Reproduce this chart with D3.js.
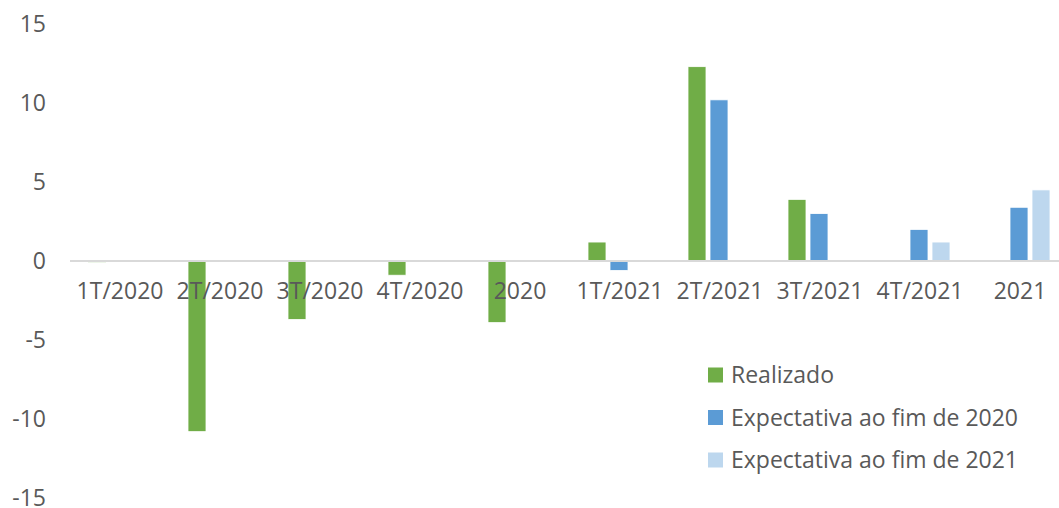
<!DOCTYPE html>
<html>
<head>
<meta charset="utf-8">
<script src="https://cdn.jsdelivr.net/npm/d3@7"></script>
<style>
    body { margin: 0; background: #fff; }
    text { font-family: "Open Sans", sans-serif; fill: #595959; }
</style>
</head>
<body>
<script>
// Chart data
var categories = ["1T/2020", "2T/2020", "3T/2020", "4T/2020", "2020",
                  "1T/2021", "2T/2021", "3T/2021", "4T/2021", "2021"];
var seriesNames = ["Realizado", "Expectativa ao fim de 2020", "Expectativa ao fim de 2021"];
var realizado = [-0.1, -10.8, -3.7, -0.9, -3.9, 1.2, 12.3, 3.9, null, null];
var expectativa2020 = [null, null, null, null, null, -0.6, 10.2, 3.0, 2.0, 3.4];
var expectativa2021 = [null, null, null, null, null, null, null, null, 1.2, 4.5];
var yTicks = [-15, -10, -5, 0, 5, 10, 15];
var colors = ["#70AD47", "#5B9BD5", "#BDD7EE"];

var width = 1059,
    height = 508;

var svg = d3.select("body")
    .append("svg")
    .attr("width", width)
    .attr("height", height);

// Scales
var x0 = d3.scaleBand()
    .domain(categories)
    .range([70, 1070]);

var x1 = d3.scaleBand()
    .domain(d3.range(3))
    .range([18, 80])
    .paddingInner(4 / 22);

var y = d3.scaleLinear()
    .domain([-15, 15])
    .range([498, 24]);

// Y axis labels (no line), plain hyphen for negatives
var yAxis = svg.append("g")
    .attr("transform", "translate(46,0)")
    .call(d3.axisLeft(y)
        .tickValues(yTicks)
        .tickFormat(function(d){ return String(d); })
        .tickSize(0)
        .tickPadding(0));
yAxis.select(".domain").remove();
yAxis.selectAll("text")
    .attr("font-size", 23)
    .attr("font-family", null);

// Bars
var series = [realizado, expectativa2020, expectativa2021];
var bars = [];
series.forEach(function(vals, s){
    vals.forEach(function(v, i){
        if (v !== null) bars.push({cat: categories[i], s: s, v: v});
    });
});

svg.selectAll(".bar")
    .data(bars)
    .enter()
    .append("rect")
    .attr("class", "bar")
    .attr("x", function(d){ return x0(d.cat) + x1(d.s); })
    .attr("width", x1.bandwidth())
    .attr("y", function(d){ return y(Math.max(0, d.v)); })
    .attr("height", function(d){ return Math.max(1, Math.abs(y(d.v) - y(0))); })
    .attr("fill", function(d){ return colors[d.s]; })
    .attr("stroke", "#fff")
    .attr("stroke-width", 0.8);

// Zero line
svg.append("line")
    .attr("x1", 70)
    .attr("x2", width)
    .attr("y1", y(0))
    .attr("y2", y(0))
    .attr("stroke", "#D9D9D9")
    .attr("stroke-width", 2);

// Category labels, just below the zero line
var xAxis = svg.append("g")
    .attr("transform", "translate(0," + y(0) + ")")
    .call(d3.axisBottom(x0).tickSize(0).tickPadding(22));
xAxis.select(".domain").remove();
xAxis.selectAll("text")
    .attr("font-size", 23)
    .attr("font-family", null);

// Legend
var legend = svg.selectAll(".legend")
    .data(seriesNames)
    .enter()
    .append("g")
    .attr("class", "legend")
    .attr("transform", function(d, i){ return "translate(708," + (375 + i * 42.5) + ")"; });

legend.append("rect")
    .attr("x", 0)
    .attr("y", -7.5)
    .attr("width", 15)
    .attr("height", 15)
    .attr("fill", function(d, i){ return colors[i]; });

legend.append("text")
    .attr("x", 23)
    .attr("dy", "0.35em")
    .attr("font-size", 23)
    .text(function(d){ return d; });
</script>
</body>
</html>
